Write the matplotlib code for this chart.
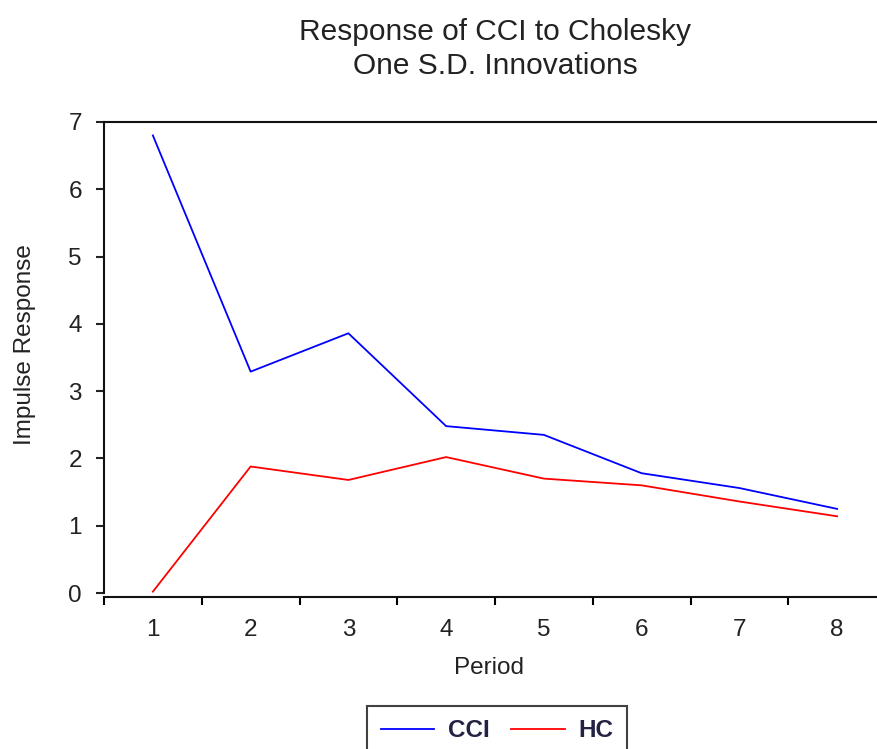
import matplotlib
matplotlib.use('Agg')
import matplotlib.pyplot as plt
import numpy as np

# impulse responses
periods = [1, 2, 3, 4, 5, 6, 7, 8]
cci = [6.80, 3.29, 3.86, 2.48, 2.35, 1.78, 1.56, 1.25]
hc = [0.02, 1.88, 1.68, 2.02, 1.70, 1.60, 1.36, 1.14]
yticks = [0, 1, 2, 3, 4, 5, 6, 7]

plt.rcParams['font.family'] = ['Liberation Sans', 'DejaVu Sans']

W, H = 877, 749
fig = plt.figure(figsize=(W / 100, H / 100), dpi=100)
# axes box in pixels: left 104, right 886 (runs past the image edge), top 122, bottom 593
ax = fig.add_axes([104 / W, 1 - 593 / H, (886 - 104) / W, (593 - 122) / H])

ax.plot(periods, cci, color='#0000FF', lw=1.3, label='CCI')
ax.plot(periods, hc, color='#FF0000', lw=1.3, label='HC')

ax.set_xlim(0.5, 8.5)
ax.set_ylim(0, 7)

for s in ax.spines.values():
    s.set_linewidth(1.5)
    s.set_color('#111111')
ax.spines['bottom'].set_position(('outward', 3))

ax.set_yticks(yticks)
ax.tick_params(axis='y', direction='out', length=6, width=1.5, pad=10, labelsize=17.5,
               colors='#222222')
ax.set_xticks(periods)
ax.set_xticks(np.arange(0.5, 9.0, 1.0), minor=True)
ax.tick_params(axis='x', which='major', length=0, pad=16, labelsize=17.5, colors='#222222')
ax.tick_params(axis='x', which='minor', direction='out', length=6, width=1.5)

ax.set_xlabel('Period', fontsize=17.5, color='#222222')
ax.xaxis.set_label_coords(0.492, -0.135)
ax.set_ylabel('Impulse Response', fontsize=17.5, color='#222222', va='center')
ax.yaxis.set_label_coords(-0.101, 0.527)

fig.text(495 / W, 1 - 49 / H, 'Response of CCI to Cholesky\nOne S.D. Innovations',
         ha='center', va='center', fontsize=21.5, linespacing=1.3, color='#222222')

leg = fig.legend(loc='upper center', bbox_to_anchor=(497 / W, 1 - 706 / H), ncol=2,
                 fontsize=17.5, frameon=True, fancybox=False, handlelength=2.2,
                 handletextpad=0.55, columnspacing=0.9, borderpad=0.55, borderaxespad=0,
                 prop={'size': 17.5, 'weight': 'bold'})
leg.get_frame().set_edgecolor('#111111')
leg.get_frame().set_linewidth(1.5)
for t in leg.get_texts():
    t.set_color('#222244')

plt.savefig('out.png', dpi=100)
